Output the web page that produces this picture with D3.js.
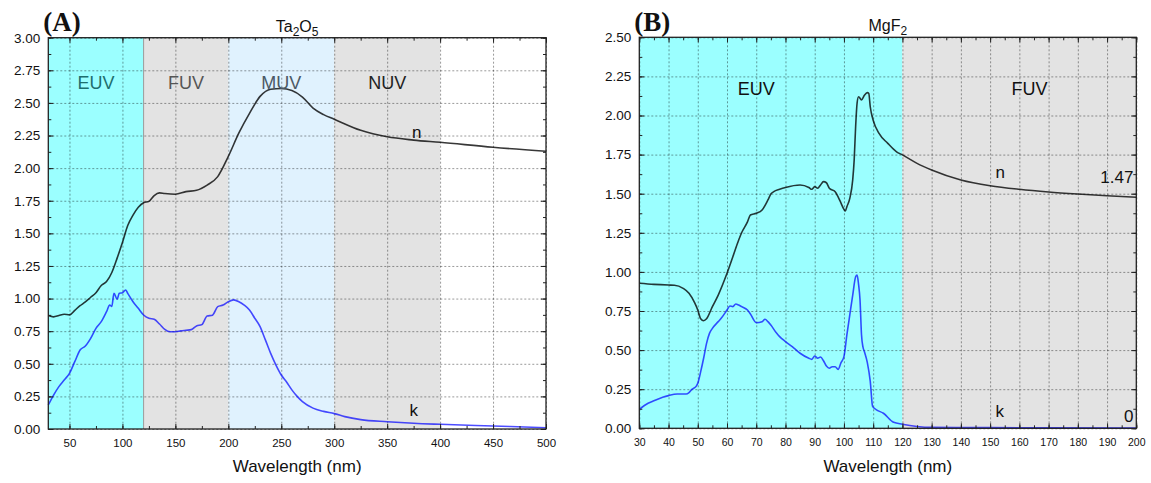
<!DOCTYPE html>
<html lang="en">
<head>
	<meta charset="UTF-8">
	<title>Ta2O5 / MgF2 optical constants</title>
	<style>
		body { margin: 0; background: #fff; }
		text { font-family: "Liberation Sans", Arial, sans-serif; }
		text.tag { font-family: "Liberation Serif", "Times New Roman", serif; font-weight: bold; }
	</style>
</head>
<body>
	<script src="https://d3js.org/d3.v7.min.js"></script>
	<script type="text/javascript">
		// ---- data: [wavelength nm, value] ----
		var taN = [[30,0.87],[35,0.86],[40,0.87],[45,0.88],[50,0.875],[55,0.91],[60,0.945],[65,0.975],[70,1.01],[75,1.045],
			[80,1.10],[85,1.13],[90,1.20],[95,1.31],[100,1.43],[105,1.56],[110,1.64],[115,1.70],[120,1.735],[125,1.745],
			[130,1.79],[135,1.81],[140,1.805],[150,1.80],[160,1.82],[170,1.83],[180,1.87],[190,1.935],[200,2.09],[210,2.27],
			[220,2.42],[230,2.55],[240,2.605],[250,2.61],[260,2.595],[270,2.545],[280,2.46],[290,2.41],[300,2.375],[325,2.29],
			[350,2.24],[375,2.215],[400,2.198],[450,2.16],[500,2.13]];
		var taK = [[30,0.184],[35,0.26],[40,0.325],[45,0.375],[50,0.427],[55,0.516],[60,0.606],[65,0.636],[70,0.695],[75,0.772],
			[80,0.823],[85,0.90],[88,0.95],[90,0.94],[92,1.04],[95,0.995],[97,1.04],[100,1.045],[103,1.066],[105,1.04],
			[110,0.976],[115,0.925],[120,0.874],[125,0.849],[130,0.841],[135,0.805],[140,0.764],[145,0.746],[150,0.746],[155,0.752],
			[160,0.757],[165,0.762],[170,0.79],[175,0.80],[180,0.866],[185,0.873],[190,0.938],[195,0.95],[200,0.976],[205,0.99],
			[210,0.976],[215,0.95],[220,0.912],[225,0.849],[230,0.785],[235,0.683],[240,0.58],[245,0.49],[250,0.414],[255,0.36],
			[260,0.30],[265,0.25],[270,0.21],[280,0.16],[290,0.135],[300,0.118],[310,0.095],[325,0.072],[350,0.056],[375,0.044],
			[400,0.036],[450,0.023],[500,0.01]];
		var mgN = [[30,0.927],[35,0.92],[40,0.916],[42,0.915],[45,0.895],[47,0.863],[49,0.80],[50,0.756],[51,0.70],[52,0.688],
			[53,0.70],[55,0.778],[57,0.852],[60,0.991],[62,1.097],[64,1.204],[65,1.25],[67,1.32],[68,1.364],[70,1.375],
			[72,1.396],[74,1.46],[75,1.498],[76,1.513],[78,1.528],[80,1.54],[85,1.556],[88,1.54],[89,1.528],[90,1.545],
			[91,1.535],[92,1.556],[93,1.577],[94,1.57],[95,1.535],[97,1.513],[98,1.48],[99,1.44],[100,1.40],[100.5,1.39],
			[101,1.417],[102,1.47],[103,1.588],[103.5,1.716],[104,1.93],[104.5,2.08],[105,2.12],[106,2.10],[107,2.13],[108,2.146],
			[108.5,2.14],[109,2.056],[110,1.97],[112,1.886],[115,1.822],[118,1.768],[120,1.748],[125,1.694],[130,1.652],[140,1.588],
			[150,1.551],[160,1.528],[170,1.511],[180,1.498],[190,1.487],[200,1.477]];
		var mgK = [[30,0.121],[33,0.16],[35,0.176],[38,0.198],[40,0.209],[43,0.219],[46,0.219],[47,0.228],[48,0.249],[49.5,0.27],
			[50,0.288],[51,0.362],[52,0.448],[53,0.543],[54,0.607],[55,0.639],[57,0.682],[58,0.703],[60,0.756],[61,0.782],
			[62,0.778],[63,0.795],[64,0.788],[65,0.778],[67,0.756],[68,0.731],[70,0.675],[72,0.682],[73,0.697],[74,0.682],
			[75,0.66],[77,0.607],[78,0.586],[80,0.554],[83,0.511],[85,0.48],[88,0.448],[89,0.441],[90,0.462],[91,0.448],
			[92,0.456],[93,0.432],[94,0.398],[95,0.384],[96,0.394],[97,0.394],[98,0.377],[99,0.42],[100,0.458],[101,0.597],
			[102,0.725],[103,0.852],[104,0.969],[104.5,0.98],[105,0.92],[105.5,0.82],[106,0.6],[106.5,0.52],[107,0.49],[108,0.42],
			[109,0.3],[109.8,0.14],[111,0.12],[113.5,0.096],[117,0.038],[120,0.026],[125,0.012],[130,0.006],[150,0.004],[200,0.002]];

		// spectral regions
		var taBands = [{name:"EUV",from:30,to:120},{name:"FUV",from:120,to:200},{name:"MUV",from:200,to:300},{name:"NUV",from:300,to:400}];
		var mgBands = [{name:"EUV",from:30,to:120},{name:"FUV",from:120,to:200}];
		var bandFill = {EUV:"#9bffff",FUV:"#e3e3e3",MUV:"#e0f2fe",NUV:"#e3e3e3"};

		// ticks
		var taXMajor = d3.range(50,501,50), taXMinor = d3.range(50,501,25);
		var taYMajor = d3.range(0,3.001,0.25), taYMinor = d3.range(0,3.001,0.125);
		var mgXMajor = d3.range(30,201,10), mgXMinor = d3.range(30,201,5);
		var mgYMajor = d3.range(0,2.501,0.25), mgYMinor = d3.range(0,2.501,0.125);

		var svg = d3.select("body").append("svg").attr("width",1151).attr("height",483);

		function panel(o){
			var g = svg.append("g").attr("transform","translate("+o.left+","+o.top+")");
			var x = d3.scaleLinear().domain(o.xDomain).range([0,o.w]);
			var y = d3.scaleLinear().domain(o.yDomain).range([o.h,0]);

			//背景色带
			g.selectAll("rect.band").data(o.bands).enter().append("rect")
				.attr("x",function(d){ return x(d.from); })
				.attr("width",function(d){ return x(d.to)-x(d.from); })
				.attr("y",0).attr("height",o.h)
				.attr("fill",function(d){ return bandFill[d.name]; });

			//网格
			var gx = g.append("g").call(d3.axisBottom(x).tickValues(o.xMajor).tickSize(o.h).tickFormat(""));
			var gy = g.append("g").call(d3.axisLeft(y).tickValues(o.yMajor).tickSize(-o.w).tickFormat(""));
			[gx,gy].forEach(function(s){
				s.select(".domain").remove();
				s.selectAll("line").attr("stroke","#000").attr("stroke-opacity",0.4).attr("stroke-dasharray","2,2").attr("stroke-width",1);
			});
			if (o.edgeLine) g.append("line").attr("x1",x(o.edgeLine)).attr("x2",x(o.edgeLine)).attr("y1",0).attr("y2",o.h)
				.attr("stroke","#9a9a9a").attr("stroke-width",1);

			//曲线
			var line = d3.line().x(function(d){ return x(d[0]); }).y(function(d){ return y(d[1]); }).curve(d3.curveMonotoneX);
			g.append("path").datum(o.n).attr("d",line).attr("fill","none").attr("stroke","#000").attr("stroke-opacity",0.78).attr("stroke-width",1.6);
			g.append("path").datum(o.k).attr("d",line).attr("fill","none").attr("stroke","#0000ff").attr("stroke-opacity",0.7).attr("stroke-width",1.6);

			//刻度
			function ticks(axis, vals, size, fmt, tr){
				var a = g.append("g").attr("transform",tr||null).call(axis.tickValues(vals).tickSize(size).tickPadding(8).tickFormat(fmt));
				a.select(".domain").remove();
				a.selectAll("line").attr("stroke","#222");
				return a;
			}
			var none = function(){ return ""; };
			var bx = ticks(d3.axisBottom(x), o.xMajor, -5, o.xFmt, "translate(0,"+o.h+")");
			bx.selectAll("text").attr("font-family",null).attr("font-size",o.xFont).attr("fill","#111").attr("dy","0.71em").attr("y",10);
			ticks(d3.axisBottom(x), o.xMinor, -3, none, "translate(0,"+o.h+")");
			ticks(d3.axisTop(x), o.xMajor, -5, none);
			ticks(d3.axisTop(x), o.xMinor, -3, none);
			var ly = ticks(d3.axisLeft(y), o.yMajor, -5, d3.format(".2f"));
			ly.selectAll("text").attr("font-size",13.5).attr("fill","#111").attr("x",-8);
			ticks(d3.axisLeft(y), o.yMinor, -3, none);
			ticks(d3.axisRight(y), o.yMajor, -5, none, "translate("+o.w+",0)");
			ticks(d3.axisRight(y), o.yMinor, -3, none, "translate("+o.w+",0)");

			//边框
			g.append("rect").attr("width",o.w).attr("height",o.h).attr("fill","none").attr("stroke","#222").attr("stroke-width",1.3);

			//区域标签
			g.selectAll("text.region").data(o.regionLabels).enter().append("text")
				.attr("x",function(d){ return x(d.at); }).attr("y",function(d){ return y(d.v); })
				.attr("text-anchor","middle").attr("font-size",18).attr("fill",function(d){ return d.color; })
				.text(function(d){ return d.text; });
			g.selectAll("text.note").data(o.notes).enter().append("text")
				.attr("x",function(d){ return x(d.at); }).attr("y",function(d){ return y(d.v); })
				.attr("text-anchor",function(d){ return d.anchor||"middle"; }).attr("font-size",17).attr("fill","#111")
				.text(function(d){ return d.text; });

			//标题
			var t = g.append("text").attr("x",o.w/2).attr("y",-6).attr("text-anchor","middle").attr("font-size",16).attr("fill","#111");
			o.title.forEach(function(p){
				t.append("tspan").attr("font-size",p.sub?12:16).attr("dy",p.sub?4:(p.back?-4:0)).text(p.s);
			});
			svg.append("text").attr("class","tag").attr("x",o.left-5).attr("y",31)
				.attr("font-size",27).attr("fill","#111").text(o.tag);
			svg.append("text").attr("x",o.left+o.w/2).attr("y",472).attr("text-anchor","middle").attr("font-size",17).attr("fill","#111")
				.text("Wavelength (nm)");
		}

		panel({
			left:48.3, top:37.7, w:497.7, h:391.3, xDomain:[30,500], yDomain:[0,3],
			bands:taBands, edgeLine:120, n:taN, k:taK,
			xMajor:taXMajor, xMinor:taXMinor, yMajor:taYMajor, yMinor:taYMinor, xFont:11.5, xFmt:d3.format("d"),
			regionLabels:[{text:"EUV",at:75,v:2.61,color:"#1e6e6e"},{text:"FUV",at:160,v:2.61,color:"#555"},
				{text:"MUV",at:250,v:2.61,color:"#4b5966"},{text:"NUV",at:350,v:2.61,color:"#222"}],
			notes:[{text:"n",at:378,v:2.23},{text:"k",at:375,v:0.1}],
			title:[{s:"Ta"},{s:"2",sub:true},{s:"O",back:true},{s:"5",sub:true}], tag:"(A)"
		});
		panel({
			left:639.3, top:37.3, w:497, h:391, xDomain:[30,200], yDomain:[0,2.5],
			bands:mgBands, n:mgN, k:mgK,
			xMajor:mgXMajor, xMinor:mgXMinor, yMajor:mgYMajor, yMinor:mgYMinor, xFont:10.5, xFmt:d3.format("d"),
			regionLabels:[{text:"EUV",at:70,v:2.13,color:"#111"},{text:"FUV",at:163.5,v:2.13,color:"#111"}],
			notes:[{text:"n",at:153.5,v:1.6},{text:"k",at:153.3,v:0.07},
				{text:"1.47",at:199,v:1.57,anchor:"end"},{text:"0",at:199,v:0.043,anchor:"end"}],
			title:[{s:"MgF"},{s:"2",sub:true}], tag:"(B)"
		});
	</script>
</body>
</html>
